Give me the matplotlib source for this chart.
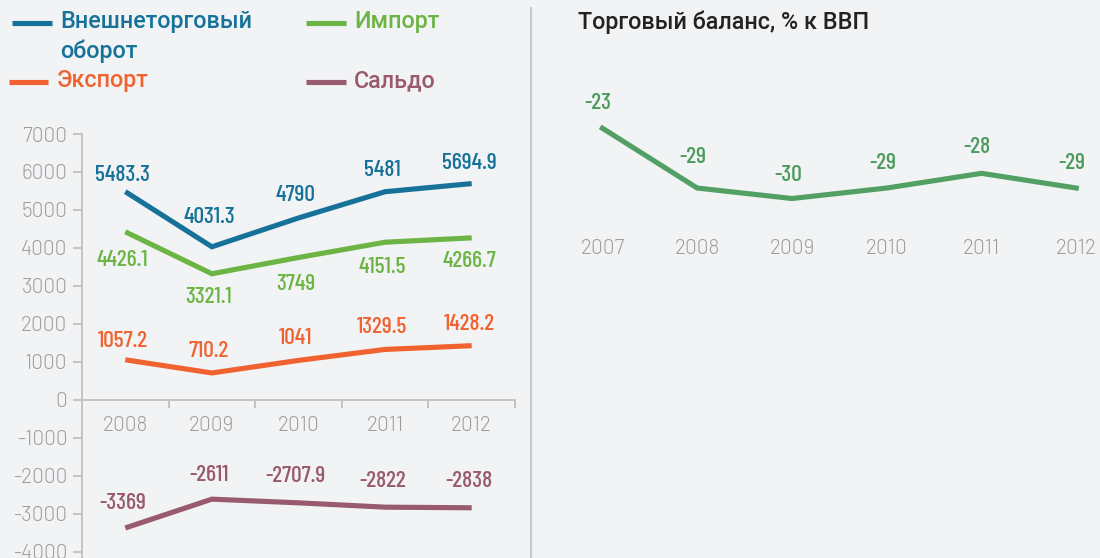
import matplotlib
matplotlib.use('Agg')
import matplotlib.pyplot as plt
from matplotlib.lines import Line2D

# ---------------- data ----------------
years = ['2008', '2009', '2010', '2011', '2012']
turnover = [5483.3, 4031.3, 4790, 5481, 5694.9]
imports = [4426.1, 3321.1, 3749, 4151.5, 4266.7]
exports = [1057.2, 710.2, 1041, 1329.5, 1428.2]
balance = [-3369, -2611, -2707.9, -2822, -2838]
yticks_left = [7000, 6000, 5000, 4000, 3000, 2000, 1000, 0, -1000, -2000, -3000, -4000]

gdp_years = ['2007', '2008', '2009', '2010', '2011', '2012']
balance_gdp = [-23.3, -29.0, -30.0, -29.0, -27.6, -29.0]

legend_names = ['Внешнеторговый\nоборот', 'Импорт', 'Экспорт', 'Сальдо']
right_title = 'Торговый баланс, % к ВВП'

# ---------------- style ----------------
W, H = 1100, 558
BG = '#f2f3f5'
C_BLUE = '#17729a'
C_GREEN = '#6cb545'
C_ORANGE = '#f06330'
C_PURPLE = '#985a6c'
C_RGREEN = '#52a064'
C_RLABEL = '#4c9a5c'
C_TICK = '#9d9d9d'
C_SPINE = '#c0c0c0'
TICK_FONT = ['Barlow', 'Roboto', 'DejaVu Sans']
LBL_FONT = ['Barlow Condensed', 'Roboto', 'DejaVu Sans']
LEG_FONT = ['Roboto', 'DejaVu Sans']

fig = plt.figure(figsize=(W / 100, H / 100), dpi=100, facecolor=BG)


def fx(x):
    return x / W


def fy(y):
    return 1 - y / H


# ---------------- left chart ----------------
axL = fig.add_axes([fx(82), 0, (515 - 82) / W, (558 - 134) / H])
axL.set_facecolor('none')
axL.set_xlim(-0.5, len(years) - 0.5)
axL.set_ylim(-4160, 7000)
for s in ['top', 'right']:
    axL.spines[s].set_visible(False)
axL.spines['left'].set_color(C_SPINE)
axL.spines['left'].set_linewidth(1.3)
axL.spines['bottom'].set_position(('data', 0))
axL.spines['bottom'].set_color(C_SPINE)
axL.spines['bottom'].set_linewidth(1.3)

axL.set_yticks(yticks_left)
axL.set_yticklabels([str(v) for v in yticks_left])
axL.tick_params(axis='y', length=6.5, width=1.3, color=C_SPINE, pad=4,
                labelcolor=C_TICK, labelsize=15)
xb = [i + 0.5 for i in range(len(years))]
axL.set_xticks(xb)
axL.set_xticklabels([''] * len(xb))
axL.tick_params(axis='x', which='major', length=6, width=1.3, color=C_SPINE)
axL.set_xticks(range(len(years)), minor=True)
axL.set_xticklabels(years, minor=True)
axL.tick_params(axis='x', which='minor', length=0, pad=11.5,
                labelcolor=C_TICK, labelsize=15)
for lab in axL.get_yticklabels() + axL.get_xticklabels(minor=True):
    lab.set_family(TICK_FONT)
    lab.set_fontweight(300)

series = [
    (turnover, C_BLUE, [-17, -30, -23, -22, -21]),
    (imports, C_GREEN, [28, 23, 26, 25, 23]),
    (exports, C_ORANGE, [-19, -22, -22, -22, -22]),
    (balance, C_PURPLE, [-25, -24, -27, -26, -27]),
]
x = list(range(len(years)))
for vals, col, offs in series:
    axL.plot(x, vals, color=col, lw=3.7, solid_capstyle='butt',
             solid_joinstyle='miter', clip_on=False)
    for xi, v, d in zip(x, vals, offs):
        axL.annotate(f'{v:g}', (xi, v), xytext=(-2, -d * 0.72),
                     textcoords='offset points', ha='center', va='center',
                     color=col, fontsize=17, family=LBL_FONT, fontweight=500)

# ---------------- legend (manual) ----------------
leg = [
    (12, 52, 23, 60, C_BLUE, legend_names[0]),
    (306, 346, 23, 354, C_GREEN, legend_names[1]),
    (9, 48, 82, 57, C_ORANGE, legend_names[2]),
    (306, 346, 82, 354, C_PURPLE, legend_names[3]),
]
for x0, x1, yy, tx, col, name in leg:
    fig.add_artist(Line2D([fx(x0), fx(x1)], [fy(yy), fy(yy)], color=col,
                          lw=3.7, solid_capstyle='butt'))
    fig.text(fx(tx), fy(yy - 13), name, color=col, fontsize=16.8,
             family=LEG_FONT, fontweight=500, ha='left', va='top',
             linespacing=1.33)

# separator
fig.add_artist(Line2D([fx(531), fx(531)], [fy(8), fy(558)], color='#c8c9cb',
                      lw=1.5))

# ---------------- right chart ----------------
axR = fig.add_axes([fx(555), fy(230), (1100 - 555) / W, (230 - 60) / H])
axR.set_facecolor('none')
axR.set_xlim(-0.5, 5.25)
axR.set_ylim(-33.0, -16.8)
for s in axR.spines.values():
    s.set_visible(False)
axR.set_yticks([])
xr = list(range(len(gdp_years)))
axR.set_xticks(xr)
axR.set_xticklabels(gdp_years)
axR.tick_params(axis='x', length=0, pad=6.5, labelcolor=C_TICK, labelsize=15)
for lab in axR.get_xticklabels():
    lab.set_family(TICK_FONT)
    lab.set_fontweight(300)
axR.plot(xr, balance_gdp, color=C_RGREEN, lw=3.7, solid_joinstyle='miter',
         clip_on=False)
roffs = [-25, -31, -24, -25, -26, -25]
for xi, v, d in zip(xr, balance_gdp, roffs):
    axR.annotate(f'{round(v)}', (xi, v), xytext=(-3, -d * 0.72),
                 textcoords='offset points', ha='center', va='center',
                 color=C_RLABEL, fontsize=17, family=LBL_FONT, fontweight=500)

fig.text(fx(578), fy(11), right_title, color='#222222', fontsize=16.8,
         family=LEG_FONT, fontweight=500, ha='left', va='top')

fig.savefig('out.png', dpi=100, facecolor=BG)
